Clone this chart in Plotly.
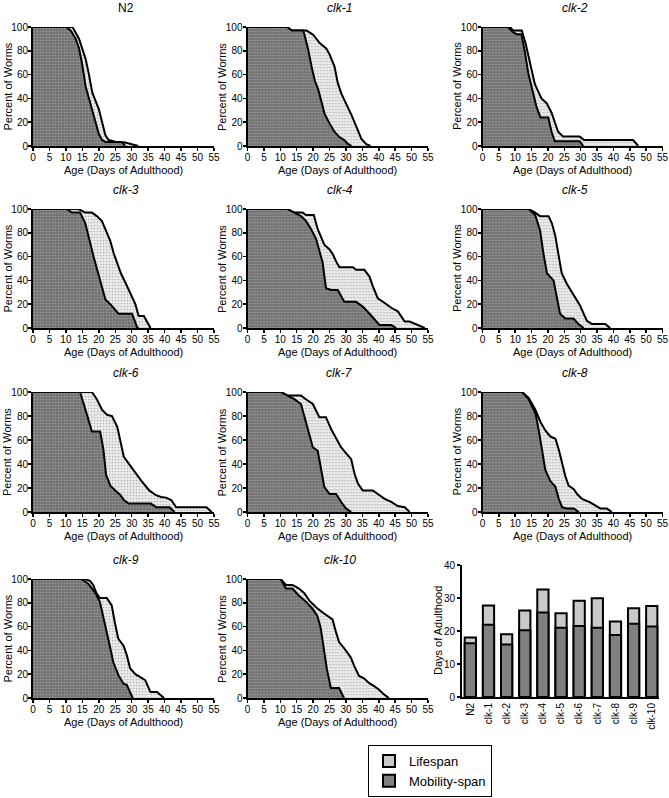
import plotly.graph_objects as go

W, H = 669, 798

# ---------------- data: (day, percent) survival curves ----------------
n2_lifespan = [(0,100),(12,100),(14,90),(16,73),(17,60),(18,45),(19,38),(20,31),(21,20),(22,9),(23,5),(25,3.5),(28,3),(30,1.5),(32,0)]
n2_mobility = [(0,100),(10,100),(11.5,97),(13,90),(14,82),(15,68),(16,50),(17,40),(18,31),(19,20),(20,10),(21,5),(22,3.4),(27,3.4),(28,0)]

clk1_lifespan = [(0,100),(12,100),(13.5,97),(18,97),(20,93.5),(22,86.5),(24,82),(25,77),(26.5,67),(27.5,53),(28.6,44),(30,36),(31.7,26),(33.2,16),(34.7,6),(36.2,1.5),(37.5,0)]
clk1_mobility = [(0,100),(12,100),(13.5,97),(17,97),(17.5,92),(18.5,81),(19.5,67),(20.5,55),(21.5,48),(22.5,38.5),(23.5,27),(25,19),(26.5,12),(28,7.5),(29.5,5),(30.5,2),(31.7,0)]

clk2_lifespan = [(0,100),(8.4,100),(9.4,97),(12,97),(13.2,86),(14.5,69),(16,52),(18,40),(19.6,36),(21.1,28),(22.1,19),(23.1,12),(24.6,8),(29.7,8),(31,5),(46,5),(47.6,0)]
clk2_mobility = [(0,100),(7.8,100),(9.2,96),(10.4,94),(11.9,94),(12.9,80),(14,61),(15.5,44),(16.5,33),(17.7,24),(20.1,24),(21.1,12),(22.1,4),(29.7,4),(30.8,0)]

clk3_lifespan = [(0,100),(13.8,100),(15.9,97),(17.9,97),(19.4,94),(20.9,90),(22.3,81),(23.5,73),(24.5,63),(25.5,55),(26.7,46),(28.1,38),(29.6,29),(31.1,20),(32.1,10),(33.7,10),(35.7,0)]
clk3_mobility = [(0,100),(10.3,100),(11.8,97),(14.3,97),(15.9,88),(16.9,76),(18.4,60),(19.9,45),(20.9,34),(22,24),(23.5,20),(26,12),(30.1,12),(31.6,1),(32,0)]

clk4_lifespan = [(0,100),(12.2,100),(13.7,97),(16.8,97),(17.8,95),(20.2,95),(21.4,83),(22.4,76),(23.4,70),(25,66),(26,62),(27,56),(28,51),(32.1,51),(33.1,49),(35.6,49),(37.2,43),(38.2,35),(39.7,25),(41.8,21),(43.8,17),(45.8,14),(47.9,5.5),(49.4,5.5),(51.9,2.5),(54,0)]
clk4_mobility = [(0,100),(12.2,100),(14.3,97),(16.3,94),(17.8,90),(19.4,83),(20.9,75),(21.9,66),(22.9,55),(23.9,33.5),(25.5,32),(27.5,32),(29.5,22),(33.1,22),(35.1,18),(37.2,12),(38.7,7),(40.2,2.5),(43.8,2.5),(45.3,0)]

clk5_lifespan = [(0,100),(14.1,100),(16.1,97),(17.6,94),(20.2,94),(21.2,88),(22.2,78),(23.2,63),(24.2,46),(25.8,37),(27.3,30),(28.8,23),(29.8,19),(30.9,12),(31.9,6),(33.4,3.4),(37.5,3.4),(39,0)]
clk5_mobility = [(0,100),(14.1,100),(16.1,95),(17.6,82),(18.6,63),(19.7,46),(20.7,43),(21.7,40),(22.7,26),(23.7,12),(25.3,8),(27.8,8),(29.3,3.4),(30.9,0)]

clk6_lifespan = [(0,100),(17.9,100),(19.4,94),(21,85),(22.5,81),(24,80),(25.6,71),(26.6,57),(27.6,46),(29.7,38),(31.2,32),(33.2,25),(35.3,18),(37.4,14),(38.9,12.5),(40.4,12),(42,10),(43.5,4),(52.7,4),(54.3,0)]
clk6_mobility = [(0,100),(14.3,100),(16.3,82),(17.9,67),(20.4,67),(21.4,52),(22.2,31),(23.5,22),(25,18),(26.6,14),(27.6,10),(29.1,7),(35.8,7),(37.4,4),(41.5,4),(43,0)]

clk7_lifespan = [(0,100),(10.2,100),(12.2,97),(16.3,97),(17.8,94),(19.9,90),(21.9,79),(23.9,79),(25.5,69),(27,61),(28.5,54),(30,49),(31.6,44),(32.6,32),(33.6,24),(35.1,18),(38.2,18),(39.7,15),(41.8,11),(43.8,8.5),(45.8,5),(47.9,4),(49.4,0)]
clk7_mobility = [(0,100),(10.2,100),(12.2,97),(14.3,94),(16.3,90),(17.3,80),(18.3,69),(19.9,54),(21.4,51),(22.4,35),(23.4,21),(25,15),(27,15),(28.5,8.5),(30,3),(31.6,0)]

clk8_lifespan = [(0,100),(12.1,100),(14.1,95),(16.2,85),(17.7,75),(19.2,68),(20.7,63),(22.3,61),(23.3,52),(24.3,40),(25.3,30),(26.3,22),(27.9,19),(28.9,15),(30.4,11),(32.9,8),(35,5),(36,3),(38,3),(39.5,0)]
clk8_mobility = [(0,100),(12.1,100),(14.1,94),(16.2,82),(17.2,68),(18.2,52),(19.2,35),(20.7,26),(22.3,21),(23.3,11),(24.3,4),(25.8,3),(27.9,3),(29.4,0)]

clk9_lifespan = [(0,100),(15.7,100),(17.3,98.5),(18.3,95),(19.3,88),(20.3,84),(22.4,84),(23.9,78),(24.9,63),(25.9,50),(27.5,44),(28.5,36),(29.5,25),(31.1,20),(32.6,17.5),(34.1,15),(35.7,5),(37.7,5),(39.8,0)]
clk9_mobility = [(0,100),(14.7,100),(16.8,96),(18.8,89),(20.3,81),(21.4,68),(22.4,57),(23.4,43),(24.4,30),(26,19),(27.5,12),(28.5,11),(29.5,5),(30.3,0)]

clk10_lifespan = [(0,100),(10.1,100),(11.7,95),(13.7,95),(15.7,92),(17.3,88),(18.8,82),(20.8,76.5),(22.8,72),(24.4,69),(25.9,66),(26.9,56),(27.9,47),(29.4,42),(30.4,38),(31.5,34),(32.5,27),(34,18.5),(35.5,16.5),(37,12.7),(38.6,10),(40.1,7),(41.6,3),(43.1,0)]
clk10_mobility = [(0,100),(10.1,100),(11.7,92),(13.7,92),(15.7,86),(17.8,81),(19.8,75),(21.3,69),(22.3,59),(23.3,42),(24.2,24),(25.4,8.5),(27.9,8.5),(29.4,0)]

panel_titles = ["N2", "clk-1", "clk-2", "clk-3", "clk-4", "clk-5", "clk-6", "clk-7", "clk-8", "clk-9", "clk-10"]
panel_lifespan = [n2_lifespan, clk1_lifespan, clk2_lifespan, clk3_lifespan, clk4_lifespan, clk5_lifespan,
                  clk6_lifespan, clk7_lifespan, clk8_lifespan, clk9_lifespan, clk10_lifespan]
panel_mobility = [n2_mobility, clk1_mobility, clk2_mobility, clk3_mobility, clk4_mobility, clk5_mobility,
                  clk6_mobility, clk7_mobility, clk8_mobility, clk9_mobility, clk10_mobility]

x_ticks = [0, 5, 10, 15, 20, 25, 30, 35, 40, 45, 50, 55]
y_ticks = [0, 20, 40, 60, 80, 100]

# bar chart (mean days)
bar_strains = ["N2", "clk-1", "clk-2", "clk-3", "clk-4", "clk-5", "clk-6", "clk-7", "clk-8", "clk-9", "clk-10"]
bar_lifespan = [18.0, 27.7, 19.0, 26.2, 32.6, 25.4, 29.2, 29.9, 22.9, 26.9, 27.6]
bar_mobility = [16.3, 21.9, 15.9, 20.2, 25.6, 21.0, 21.5, 21.0, 18.8, 22.2, 21.4]
bar_ticks = [0, 10, 20, 30, 40]

# ---------------- layout geometry (pixels) ----------------
cols_px = [(33, 214), (247.5, 428), (482.5, 662.5)]
rows_px = [(27, 146), (209, 328), (392, 512), (579, 698)]
bar_px_x = (462, 659)
bar_px_y = (565, 697)

FONT = "Arial, Liberation Sans, Helvetica, sans-serif"


def px_x(p):
    return p / W


def px_y(p):
    return 1 - p / H


fig = go.Figure()
layout = dict(
    template="none",
    width=W, height=H,
    margin=dict(l=0, r=0, t=0, b=0, pad=0),
    paper_bgcolor="white", plot_bgcolor="rgba(0,0,0,0)",
    font=dict(family=FONT, size=10, color="black"),
    showlegend=True,
    barmode="overlay",
)
annotations = []

dark_fill = dict(shape=".", fgcolor="#9e9e9e", bgcolor="#737373", size=3, solidity=0.25)
light_fill = dict(shape=".", fgcolor="#b5b5b5", bgcolor="#ececec", size=3, solidity=0.25)

for i, title in enumerate(panel_titles):
    r, c = divmod(i, 3)
    x0, x1 = cols_px[c]
    y0, y1 = rows_px[r]
    n = i + 1
    xa = "x" if n == 1 else f"x{n}"
    ya = "y" if n == 1 else f"y{n}"
    lx = [p[0] for p in panel_lifespan[i]]
    ly = [p[1] for p in panel_lifespan[i]]
    mx = [p[0] for p in panel_mobility[i]]
    my = [p[1] for p in panel_mobility[i]]
    fig.add_trace(go.Scatter(x=lx, y=ly, mode="lines", xaxis=xa, yaxis=ya,
                             line=dict(color="black", width=2), fill="tozeroy",
                             fillcolor="#ececec", fillpattern=light_fill,
                             showlegend=False, hoverinfo="skip", cliponaxis=False))
    fig.add_trace(go.Scatter(x=mx, y=my, mode="lines", xaxis=xa, yaxis=ya,
                             line=dict(color="black", width=2), fill="tozeroy",
                             fillcolor="#737373", fillpattern=dark_fill,
                             showlegend=False, hoverinfo="skip", cliponaxis=False))
    axis_common = dict(showgrid=False, zeroline=False, showline=True, linecolor="black",
                       linewidth=2, ticks="outside", ticklen=3, tickwidth=1.5, tickcolor="black",
                       automargin=False, layer="above traces", ticklabelstandoff=-2,
                       tickfont=dict(size=10, family=FONT, color="black"), fixedrange=True)
    layout["xaxis" if n == 1 else f"xaxis{n}"] = dict(
        axis_common, domain=[px_x(x0), px_x(x1)], anchor=ya, range=[0, 55],
        tickmode="array", tickvals=x_ticks, ticktext=[str(t) for t in x_ticks])
    layout["yaxis" if n == 1 else f"yaxis{n}"] = dict(
        axis_common, domain=[px_y(y1), px_y(y0)], anchor=xa, range=[0, 100],
        tickmode="array", tickvals=y_ticks, ticktext=[str(t) for t in y_ticks])
    # panel title
    annotations.append(dict(text=title if title == "N2" else f"<i>{title}</i>",
                            x=px_x((x0 + x1) / 2 + 2), y=px_y(y0 - 19), xref="paper", yref="paper",
                            showarrow=False, xanchor="center", yanchor="middle",
                            font=dict(size=12, family=FONT, color="black")))
    annotations.append(dict(text="Age (Days of Adulthood)",
                            x=px_x((x0 + x1) / 2), y=px_y(y1 + 24), xref="paper", yref="paper",
                            showarrow=False, xanchor="center", yanchor="middle",
                            font=dict(size=11, family=FONT, color="black")))
    annotations.append(dict(text="Percent of Worms", textangle=-90,
                            x=px_x(x0 - 26), y=px_y((y0 + y1) / 2), xref="paper", yref="paper",
                            showarrow=False, xanchor="center", yanchor="middle",
                            font=dict(size=11, family=FONT, color="black")))

# bar chart
fig.add_trace(go.Bar(x=bar_strains, y=bar_lifespan, name="Lifespan", xaxis="x12", yaxis="y12",
                     marker=dict(color="#c9c9c9", line=dict(color="black", width=2)),
                     width=0.62, hoverinfo="skip"))
fig.add_trace(go.Bar(x=bar_strains, y=bar_mobility, name="Mobility-span", xaxis="x12", yaxis="y12",
                     marker=dict(color="#808080", line=dict(color="black", width=2)),
                     width=0.62, hoverinfo="skip"))
layout["xaxis12"] = dict(domain=[px_x(bar_px_x[0]), px_x(bar_px_x[1])], anchor="y12",
                         range=[-0.46, 10.4], showgrid=False, zeroline=False, showline=True,
                         linecolor="black", linewidth=2, ticks="", tickangle=-90, automargin=False,
                         tickfont=dict(size=10, family=FONT, color="black"), fixedrange=True)
layout["yaxis12"] = dict(domain=[px_y(bar_px_y[1]), px_y(bar_px_y[0])], anchor="x12",
                         range=[0, 40], showgrid=False, zeroline=False, showline=True,
                         linecolor="black", linewidth=2, ticks="outside", ticklen=3, tickwidth=1.5,
                         tickcolor="black", tickmode="array", tickvals=bar_ticks, automargin=False,
                         ticktext=[str(t) for t in bar_ticks],
                         tickfont=dict(size=10, family=FONT, color="black"), fixedrange=True)
annotations.append(dict(text="Days of Adulthood", textangle=-90,
                        x=px_x(438), y=px_y((bar_px_y[0] + bar_px_y[1]) / 2), xref="paper", yref="paper",
                        showarrow=False, xanchor="center", yanchor="middle",
                        font=dict(size=11, family=FONT, color="black")))

layout["annotations"] = annotations
layout["legend"] = dict(x=px_x(368), y=px_y(745), xanchor="left", yanchor="top",
                        bgcolor="white", bordercolor="black", borderwidth=1,
                        font=dict(size=13, family=FONT, color="black"),
                        traceorder="normal", itemwidth=30, tracegroupgap=4,
                        entrywidth=112, entrywidthmode="pixels")
fig.update_layout(**layout)

fig.write_html("out.html",
               config={"displayModeBar": False, "staticPlot": True},
               post_script="document.body.style.margin='0';document.body.style.overflow='hidden';")
